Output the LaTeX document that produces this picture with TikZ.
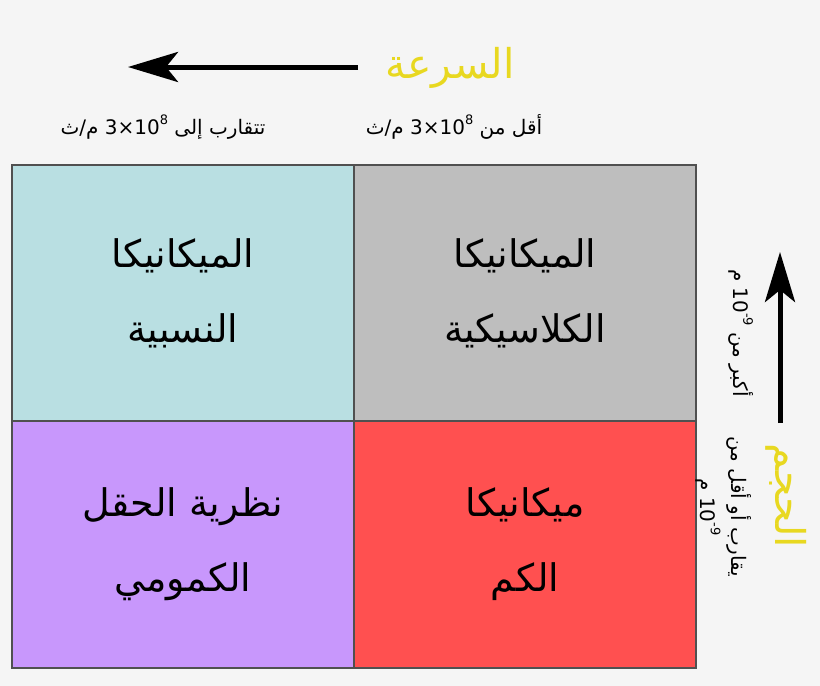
\documentclass[tikz,border=0pt]{standalone}
\usepackage{fontspec}
\usepackage{tikz}
\usetikzlibrary{arrows.meta}
\TeXXeTstate=1
\newfontfamily\arabicfont[Script=Arabic]{DejaVu Sans}
\newfontfamily\latinfont{DejaVu Sans}
\newcommand{\pwr}[1]{\raisebox{0.5em}{\latinfont\fontsize{13}{13}\selectfont #1}}
\definecolor{bgpage}{HTML}{F5F5F5}
\definecolor{gridline}{HTML}{505050}
\definecolor{cyancell}{HTML}{B9DFE2}
\definecolor{graycell}{HTML}{BEBEBE}
\definecolor{violetcell}{HTML}{C897FC}
\definecolor{redcell}{HTML}{FF5050}
\definecolor{titleyellow}{HTML}{E8D820}
\tikzstyle{cell} = [rectangle, draw=gridline, line width=1.5pt, minimum width=342pt, inner sep=0pt, text centered, align=center, font=\arabicfont\fontsize{38}{75}\selectfont]
\tikzstyle{title} = [text=titleyellow, inner sep=0pt, font=\arabicfont\fontsize{41}{44}\selectfont]
\tikzstyle{note} = [inner sep=0pt, align=center, font=\arabicfont\fontsize{20}{31}\selectfont]
\tikzstyle{arrow} = [line width=5pt, -{Stealth[length=50pt,width=30pt,inset=12pt]}]

\begin{document}
\begin{tikzpicture}[x=1pt, y=-1pt]
\useasboundingbox (0,0) rectangle (820,686);
\fill [bgpage] (0,0) rectangle (820,686);

% the four cells
\node (relat) [cell, fill=cyancell, minimum height=256pt] at (183,293) {\beginR الميكانيكا\endR\\\beginR النسبية\endR};
\node (classic) [cell, fill=graycell, minimum height=256pt] at (525,293) {\beginR الميكانيكا\endR\\\beginR الكلاسيكية\endR};
\node (qft) [cell, fill=violetcell, minimum height=247pt] at (183,544.5) {\beginR نظرية الحقل\endR\\\beginR الكمومي\endR};
\node (quantum) [cell, fill=redcell, minimum height=247pt] at (525,544.5) {\beginR ميكانيكا\endR\\\beginR الكم\endR};

% speed axis
\node (speed) [title] at (450,68) {\beginR السرعة\endR};
\coordinate (speedfrom) at (358,67);
\coordinate (speedto) at (128,67);
\draw [arrow] (speedfrom) -- (speedto);
\node (fast) [note] at (163,127) {\beginR تتقارب إلى \beginL{\latinfont 3×10}\pwr{8}\endL{} م/ث\endR};
\node (slow) [note] at (454,127) {\beginR أقل من \beginL{\latinfont 3×10}\pwr{8}\endL{} م/ث\endR};

% size axis
\coordinate (sizefrom) at (780,423);
\coordinate (sizeto) at (780,252);
\draw [arrow] (sizefrom) -- (sizeto);
\node (size) [title, rotate=-90] at (786,496) {\beginR الحجم\endR};
\node (big) [note, rotate=-90] at (741,333) {\beginR أكبر من \beginL{\latinfont 10}\pwr{-9}\endL{} م\endR};
\node (small) [note, rotate=-90] at (724,507) {\beginR يقارب أو أقل من\endR\\\beginR\beginL{\latinfont 10}\pwr{-9}\endL{} م\endR};
\end{tikzpicture}
\end{document}
